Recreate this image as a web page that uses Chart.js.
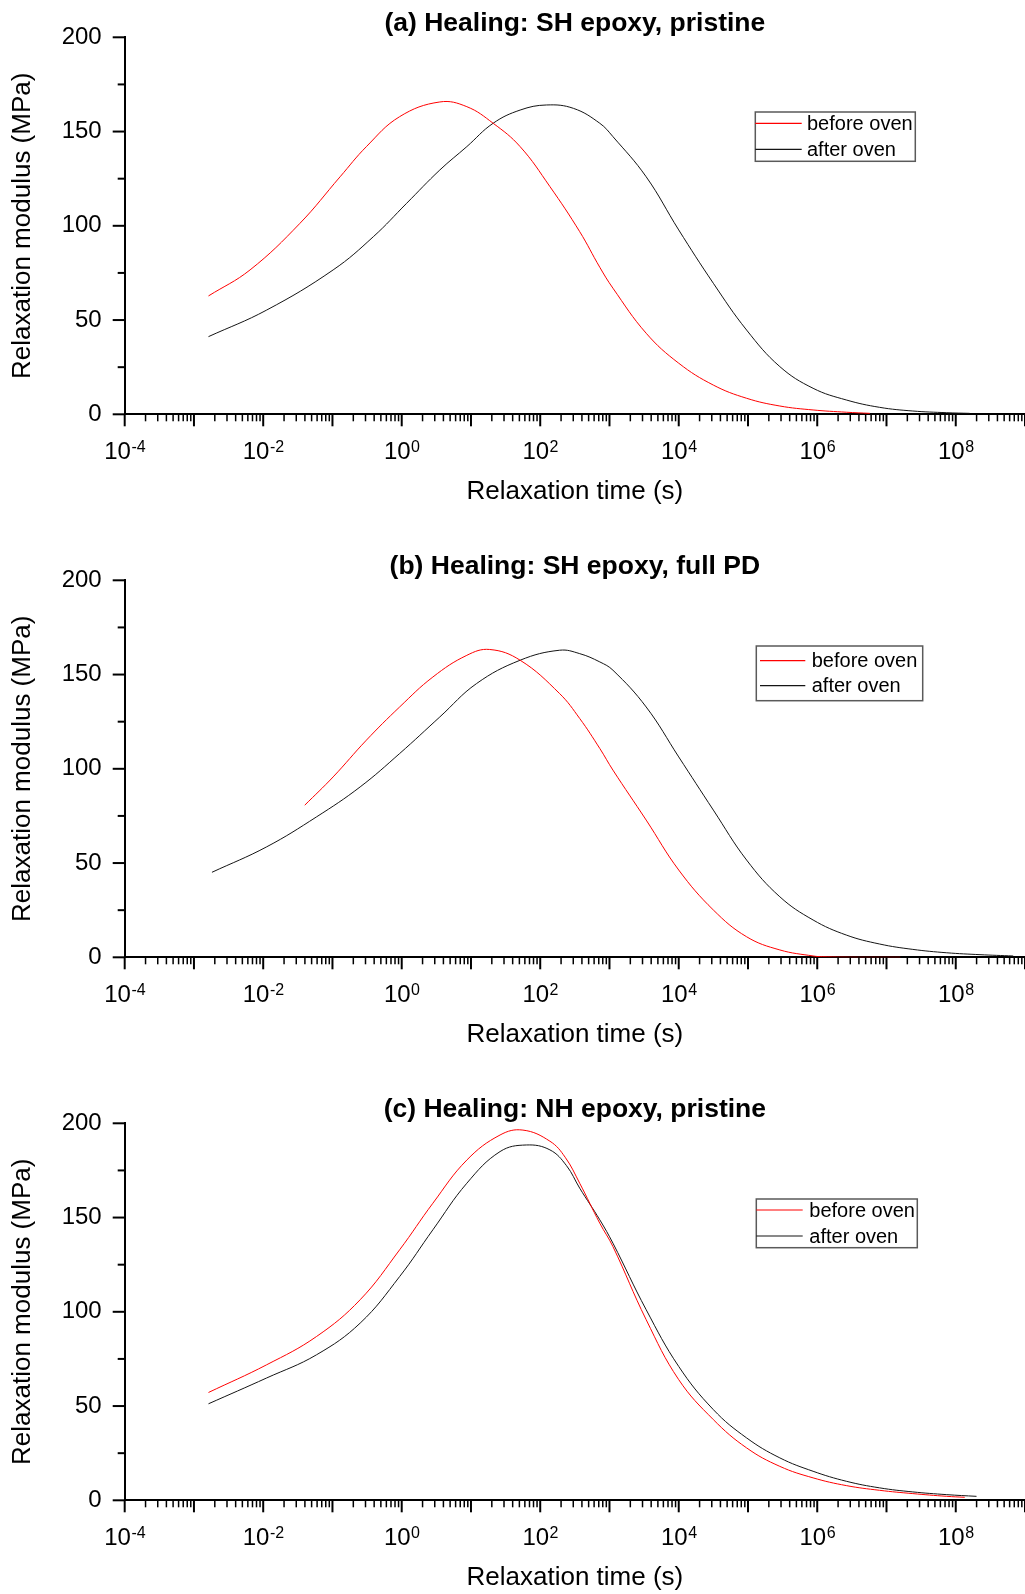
<!DOCTYPE html>
<html>
<head>
<meta charset="utf-8">
<title>Relaxation modulus spectra</title>
<script src="https://cdn.jsdelivr.net/npm/chart.js@4.4.1/dist/chart.umd.min.js"></script>
<style>
    html, body { margin: 0; padding: 0; background: #fff; overflow: hidden; }
    .panel { position: absolute; left: 0; width: 1025px; height: 543px; }
</style>
</head>
<body>
<div class="panel" style="top:0px"><canvas id="chartA" width="1025" height="543"></canvas></div>
<div class="panel" style="top:543px"><canvas id="chartB" width="1025" height="543"></canvas></div>
<div class="panel" style="top:1086px"><canvas id="chartC" width="1025" height="543"></canvas></div>
<script>
// tick labels / axis values
const xTickExponents = [-4, -2, 0, 2, 4, 6, 8];
const yMajorTicks = [0, 50, 100, 150, 200];
const yMinorTicks = [25, 75, 125, 175];
const seriesLabels = ['before oven', 'after oven'];
const panelTitles = [
    '(a) Healing: SH epoxy, pristine',
    '(b) Healing: SH epoxy, full PD',
    '(c) Healing: NH epoxy, pristine'
];

// (a) log10 of relaxation time (s) and modulus (MPa)
const aBeforeLogT = [-2.79, -2.19, -1.47, -0.89, -0.51, -0.03, 0.55, 0.94, 1.32, 1.71, 2.14, 2.57, 2.86, 3.05, 3.53, 4.00, 4.50, 4.98, 5.46, 5.94, 6.42, 6.76];
const aBeforeG    = [62.8, 76.6, 101.3, 126.0, 142.0, 157.9, 165.7, 163.2, 154.4, 142.0, 120.8, 96.9, 78.0, 66.9, 43.0, 27.1, 15.5, 8.5, 4.4, 2.3, 1.1, 0.5];
const aAfterLogT  = [-2.79, -1.95, -0.99, -0.41, 0.07, 0.55, 0.94, 1.32, 1.71, 2.09, 2.48, 2.86, 3.05, 3.53, 4.00, 4.50, 4.98, 5.46, 5.94, 6.42, 6.90, 7.38, 7.87, 8.20];
const aAfterG     = [41.2, 55.3, 76.6, 94.2, 111.9, 129.6, 142.0, 154.4, 161.4, 164.1, 162.3, 154.4, 147.3, 126.0, 97.8, 69.5, 44.7, 25.3, 13.8, 7.6, 3.7, 1.75, 0.85, 0.5];

// (b)
const bBeforeLogT = [-1.40, -0.99, -0.51, -0.03, 0.45, 0.94, 1.27, 1.71, 2.28, 2.57, 2.86, 3.05, 3.53, 4.00, 4.50, 4.98, 5.46, 5.94, 6.08, 6.60, 7.20];
const bBeforeG    = [80.7, 95.7, 115.2, 132.8, 148.7, 160.2, 163.3, 157.6, 139.9, 126.7, 110.8, 99.3, 72.8, 46.3, 25.1, 10.9, 3.9, 0.7, 0.3, 0, 0];
const bAfterLogT  = [-2.74, -1.95, -1.23, -0.60, -0.03, 0.55, 1.08, 1.71, 2.28, 2.57, 2.86, 3.05, 3.53, 4.00, 4.50, 4.98, 5.46, 5.94, 6.42, 6.90, 7.38, 7.87, 8.35, 8.83];
const bAfterG     = [45.1, 58.6, 74.5, 90.4, 108.1, 127.5, 145.2, 157.6, 162.9, 161.1, 156.7, 152.3, 132.8, 106.3, 78.1, 51.6, 32.1, 19.8, 11.8, 7.05, 4.2, 2.4, 1.4, 0.7];

// (c)
const cBeforeLogT = [-2.79, -1.95, -1.23, -0.60, -0.03, 0.45, 0.94, 1.42, 1.75, 2.14, 2.36, 2.57, 2.86, 3.05, 3.53, 4.00, 4.50, 4.98, 5.46, 5.94, 6.42, 6.90, 7.38, 7.87, 8.13];
const cBeforeG    = [57.2, 71.9, 86.9, 106.4, 132.9, 157.6, 180.5, 193.8, 196.4, 190.5, 182.0, 168.2, 147.0, 134.6, 95.8, 64.0, 42.8, 27.8, 18.0, 11.9, 7.8, 5.3, 3.55, 2.1, 1.6];
const cAfterLogT  = [-2.79, -1.95, -1.23, -0.60, -0.03, 0.45, 0.94, 1.42, 1.80, 2.14, 2.38, 2.57, 2.86, 3.05, 3.53, 4.00, 4.50, 4.98, 5.46, 5.94, 6.42, 6.90, 7.38, 7.87, 8.30];
const cAfterG     = [51.2, 64.9, 77.2, 94.0, 118.7, 143.5, 168.2, 185.0, 188.5, 185.9, 177.5, 165.6, 148.8, 136.4, 101.1, 71.0, 48.1, 33.1, 22.5, 15.4, 10.1, 6.6, 4.45, 3.0, 2.1];

const FONT = "'Liberation Sans', Arial, Helvetica, sans-serif";
Chart.defaults.font.family = FONT;
Chart.defaults.color = '#000';

const toPoints = (logT, g) => logT.map((e, i) => ({ x: Math.pow(10, e), y: g[i] }));

const originAxes = {
    id: 'originAxes',
    afterDraw(chart, args, opts) {
        const { ctx, chartArea, scales: { x, y } } = chart;
        ctx.save();
        ctx.strokeStyle = '#000';
        ctx.fillStyle = '#000';

        const minExp = Math.round(Math.log10(x.min));
        const maxExp = Math.round(Math.log10(x.max));
        for (let e = minExp; e <= maxExp; e++) {
            for (let m = 1; m <= 9; m++) {
                const v = m * Math.pow(10, e);
                if (v > x.max * 1.0001) break;
                const px = x.getPixelForValue(v);
                ctx.lineWidth = m === 1 ? 2 : 1.5;
                ctx.beginPath();
                ctx.moveTo(px, chartArea.bottom);
                ctx.lineTo(px, chartArea.bottom + (m === 1 ? 12 : 7));
                ctx.stroke();
            }
        }

        xTickExponents.forEach(e => {
            const px = x.getPixelForValue(Math.pow(10, e));
            ctx.font = `24px ${FONT}`;
            const baseW = ctx.measureText('10').width;
            ctx.font = `16px ${FONT}`;
            const expText = String(e);
            const expW = ctx.measureText(expText).width;
            const left = px - (baseW + expW) / 2;
            ctx.textBaseline = 'alphabetic';
            ctx.textAlign = 'left';
            ctx.font = `24px ${FONT}`;
            ctx.fillText('10', left, chartArea.bottom + 45);
            ctx.font = `16px ${FONT}`;
            ctx.fillText(expText, left + baseW + 0.5, chartArea.bottom + 37.5);
        });

        const drawYTick = (v, len) => {
            const py = y.getPixelForValue(v);
            ctx.lineWidth = 2;
            ctx.beginPath();
            ctx.moveTo(chartArea.left, py);
            ctx.lineTo(chartArea.left - len, py);
            ctx.stroke();
        };
        yMinorTicks.forEach(v => drawYTick(v, 7));
        yMajorTicks.forEach(v => {
            drawYTick(v, 12);
            ctx.font = `24px ${FONT}`;
            ctx.textAlign = 'right';
            ctx.textBaseline = 'middle';
            ctx.fillText(String(v), chartArea.left - 23, y.getPixelForValue(v));
        });

        // boxed legend
        const lg = opts.legend;
        ctx.lineWidth = 1.5;
        ctx.strokeStyle = '#5a5a5a';
        ctx.strokeRect(lg.x, lg.y, lg.w, lg.h);
        chart.data.datasets.forEach((ds, i) => {
            ctx.strokeStyle = ds.borderColor;
            ctx.lineWidth = 1.2;
            ctx.beginPath();
            ctx.moveTo(lg.lineX[0], lg.rowY[i]);
            ctx.lineTo(lg.lineX[1], lg.rowY[i]);
            ctx.stroke();
            ctx.font = `20px ${FONT}`;
            ctx.textAlign = 'left';
            ctx.textBaseline = 'middle';
            ctx.fillText(ds.label, lg.textX, lg.rowY[i] + 1);
        });
        ctx.restore();
    }
};

const renderPanel = (canvasId, title, before, after, legend) => {
    const ctx = document.getElementById(canvasId).getContext('2d');
    new Chart(ctx, {
        type: 'line',
        data: {
            datasets: [{
                label: seriesLabels[0],
                data: before,
                borderColor: 'rgb(255, 0, 0)',
                borderWidth: 1,
                pointRadius: 0,
                fill: false,
                tension: 0.4
            }, {
                label: seriesLabels[1],
                data: after,
                borderColor: 'rgb(20, 20, 20)',
                borderWidth: 1,
                pointRadius: 0,
                fill: false,
                tension: 0.4
            }]
        },
        options: {
            responsive: false,
            animation: false,
            events: [],
            layout: { padding: 0, autoPadding: false },
            scales: {
                x: {
                    type: 'logarithmic',
                    position: 'bottom',
                    min: 1e-4,
                    max: 1e9,
                    grid: { display: false, drawTicks: false },
                    ticks: { display: false },
                    border: { display: true, color: '#000', width: 2 },
                    title: {
                        display: true,
                        text: 'Relaxation time (s)',
                        font: { size: 26, lineHeight: 1 },
                        padding: { top: 64.9, bottom: 37.8 }
                    }
                },
                y: {
                    type: 'linear',
                    min: 0,
                    max: 200,
                    grid: { display: false, drawTicks: false },
                    ticks: { display: false },
                    border: { display: true, color: '#000', width: 2 },
                    title: {
                        display: true,
                        text: 'Relaxation modulus (MPa)',
                        font: { size: 26, lineHeight: 1 },
                        padding: { top: 10, bottom: 88.7 }
                    }
                }
            },
            plugins: {
                legend: { display: false },
                tooltip: { enabled: false },
                title: {
                    display: true,
                    text: title,
                    fullSize: false,
                    font: { size: 26.5, weight: 'bold', lineHeight: 1 },
                    padding: { top: 10.8, bottom: 0 }
                },
                originAxes: { legend: legend }
            }
        },
        plugins: [originAxes]
    });
};

renderPanel('chartA', panelTitles[0],
    toPoints(aBeforeLogT, aBeforeG), toPoints(aAfterLogT, aAfterG),
    { x: 755.3, y: 112, w: 160, h: 49.3, rowY: [123.3, 149.3], lineX: [755.3, 801.7], textX: 807 });
renderPanel('chartB', panelTitles[1],
    toPoints(bBeforeLogT, bBeforeG), toPoints(bAfterLogT, bAfterG),
    { x: 756.3, y: 103, w: 166.4, h: 54.7, rowY: [117.7, 142.7], lineX: [760, 805.3], textX: 811.7 });
renderPanel('chartC', panelTitles[2],
    toPoints(cBeforeLogT, cBeforeG), toPoints(cAfterLogT, cAfterG),
    { x: 756.3, y: 113, w: 161, h: 48.7, rowY: [124, 150], lineX: [756.3, 802.7], textX: 809.3 });
</script>
</body>
</html>
